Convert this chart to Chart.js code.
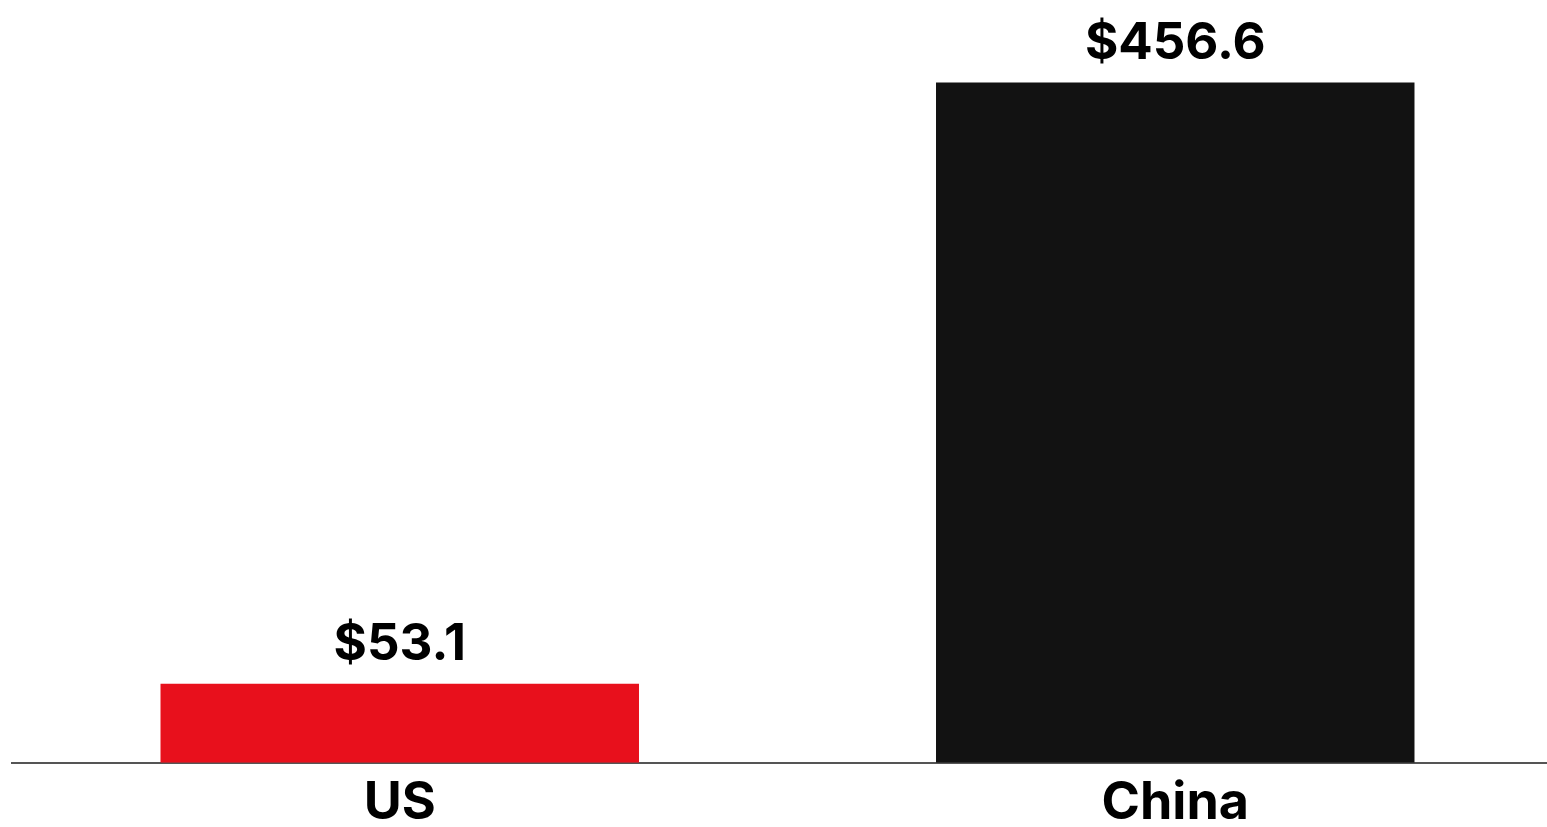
<!DOCTYPE html>
<html lang="en">

<head>
   <meta charset="UTF-8">
   <meta name="viewport" content="width=device-width, initial-scale=1.0">
   <title>US vs China</title>
   <style>
      html, body { margin: 0; padding: 0; background: #fff; overflow: hidden; }
      #wrap { width: 1563px; height: 844px; position: relative; }
   </style>
</head>

<body>
   <div id="wrap">
      <canvas id="myChart"></canvas>
   </div>

   <script src="https://cdn.jsdelivr.net/npm/chart.js"></script>

   <script>
      const countries = ['US', 'China'];
      const amounts = [53.1, 456.6];
      const barColors = ['#e8101c', '#121212'];
      const valueLabels = ['$53.1', '$456.6'];

      const FONT = 'Inter, "DejaVu Sans", sans-serif';

      // prints the dollar amount above each bar
      const valueLabelPlugin = {
         id: 'valueLabels',
         afterDatasetsDraw(chart) {
            const ctx = chart.ctx;
            const meta = chart.getDatasetMeta(0);
            ctx.save();
            ctx.font = '700 51px ' + FONT;
            ctx.fillStyle = '#000';
            ctx.textAlign = 'center';
            ctx.textBaseline = 'alphabetic';
            meta.data.forEach(function (bar, i) {
               ctx.fillText(valueLabels[i], bar.x, bar.y - 24);
            });
            ctx.restore();
         }
      };

      const ctx = document.getElementById('myChart');
      new Chart(ctx, {
         type: 'bar',
         data: {
            labels: countries,
            datasets: [{
               data: amounts,
               backgroundColor: barColors,
               borderWidth: 0,
               barPercentage: 0.617,
               categoryPercentage: 1
            }]
         },
         options: {
            responsive: true,
            maintainAspectRatio: false,
            animation: false,
            layout: { padding: { left: 12, top: 0, right: 0, bottom: 0 } },
            plugins: {
               legend: { display: false },
               tooltip: { enabled: false }
            },
            scales: {
               x: {
                  grid: { display: false, drawTicks: false },
                  border: { display: true, color: '#555', width: 2 },
                  ticks: {
                     color: '#000',
                     padding: 12,
                     font: { family: FONT, size: 52, weight: '700', lineHeight: 1.1 }
                  }
               },
               y: {
                  display: false,
                  min: 0,
                  max: 512
               }
            }
         },
         plugins: [valueLabelPlugin]
      });
   </script>
</body>

</html>
